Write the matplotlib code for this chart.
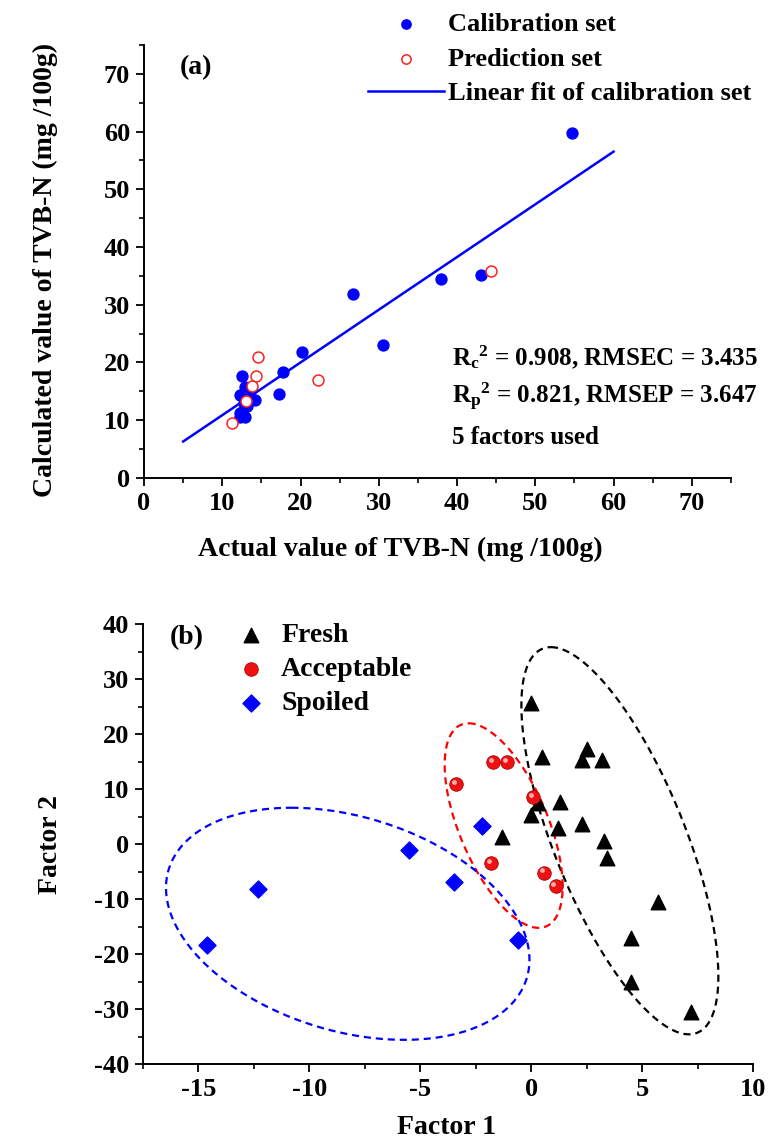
import numpy as np
import matplotlib
matplotlib.use("Agg")
import matplotlib.pyplot as plt
from matplotlib.ticker import MultipleLocator
from matplotlib.transforms import offset_copy

# (a) PLS model: actual vs calculated TVB-N
cal_actual = [54.7, 43.0, 38.0, 30.5, 26.7, 20.2, 17.8, 17.3, 12.5, 12.9, 12.3, 14.2,
              13.1, 12.5, 12.9, 12.3, 13.3, 12.8, 12.3, 13.6]
cal_pred = [59.7, 35.2, 34.5, 23.1, 31.9, 21.8, 18.4, 14.5, 17.6, 15.8, 14.4, 13.5,
            12.4, 11.5, 10.6, 10.6, 14.8, 13.0, 11.2, 15.0]
val_actual = [44.3, 22.2, 14.6, 14.3, 13.8, 13.0, 11.2]
val_pred = [35.9, 17.0, 21.0, 17.7, 15.9, 13.4, 9.5]
fit_slope = 0.913
fit_intercept = 1.75
fit_range = [5, 60]
stats_lines = [r"R$_\mathbf{c}$$^\mathbf{2}$ = 0.908, RMSEC = 3.435",
               r"R$_\mathbf{p}$$^\mathbf{2}$ = 0.821, RMSEP = 3.647",
               "5 factors used"]

# (b) score plot of the first two factors
fresh_f1 = [0.0, 0.5, 2.5, 2.3, 3.2, 1.3, 0.3, 0.0, 1.2, 2.3, -1.3, 3.3, 3.4, 5.7, 4.5, 4.5, 7.2]
fresh_f2 = [25.6, 15.9, 17.2, 15.3, 15.3, 7.7, 7.5, 5.3, 2.9, 3.6, 1.3, 0.5, -2.5, -10.5, -17.0, -25.0, -30.5]
accept_f1 = [-3.4, -1.7, -1.1, 0.1, -1.8, 0.6, 1.1]
accept_f2 = [10.9, 14.9, 14.9, 8.5, -3.5, -5.2, -7.7]
spoiled_f1 = [-14.6, -12.3, -5.5, -3.5, -2.2, -0.6]
spoiled_f2 = [-18.3, -8.1, -1.1, -6.9, 3.3, -17.5]
# class ellipses: centre, vector to topmost point, horizontal conjugate half-width
ell_centers = [(4.0, 0.6), (-1.24, 3.36), (-8.27, -14.5)]
ell_top = [(-3.11, 35.2), (-1.58, 18.6), (-2.54, 21.1)]
ell_half_w = [3.17, 2.14, 7.79]
ell_colors = ["black", "red", "blue"]

plt.rcParams["font.family"] = ["Liberation Serif", "DejaVu Serif"]
plt.rcParams["font.weight"] = "bold"
plt.rcParams["axes.unicode_minus"] = False
plt.rcParams["mathtext.fontset"] = "custom"
plt.rcParams["mathtext.rm"] = "Liberation Serif:bold"
plt.rcParams["mathtext.bf"] = "Liberation Serif:bold"
plt.rcParams["mathtext.it"] = "Liberation Serif:bold"

fig = plt.figure(figsize=(7.76, 11.44), dpi=100)


def style_axes(ax, size):
	for s in ["top", "right"]:
		ax.spines[s].set_visible(False)
	for s in ["left", "bottom"]:
		ax.spines[s].set_linewidth(1.4)
	ax.tick_params(which="major", direction="out", length=6, width=1.3, labelsize=size, pad=4)
	ax.tick_params(which="minor", direction="out", length=3.5, width=1.2)
	for lab in ax.get_xticklabels() + ax.get_yticklabels():
		lab.set_fontweight("bold")


# ---- panel (a)
ax1 = fig.add_axes([0.1856, 0.5822, 0.7564, 0.3785])
ax1.scatter(cal_actual, cal_pred, s=62, color="#0000ff", label="Calibration set", zorder=3)
ax1.scatter(val_actual, val_pred, s=62, facecolor="white", edgecolor="#ff2020", linewidth=1.1,
            label="Prediction set", zorder=4)
fx = np.array(fit_range)
ax1.plot(fx, fit_slope * fx + fit_intercept, color="#0000ff", lw=1.8,
         label="Linear fit of calibration set", zorder=2)
ax1.set_xlim(0, 75)
ax1.set_ylim(0, 75)
ax1.xaxis.set_major_locator(MultipleLocator(10))
ax1.xaxis.set_minor_locator(MultipleLocator(5))
ax1.yaxis.set_major_locator(MultipleLocator(10))
ax1.yaxis.set_minor_locator(MultipleLocator(5))
style_axes(ax1, 19)
ax1.set_xlabel("Actual value of TVB-N (mg /100g)", fontsize=20, fontweight="bold", va="center")
ax1.set_ylabel("Calculated value of TVB-N (mg /100g)", fontsize=20, fontweight="bold", va="center")
ax1.xaxis.set_label_coords(0.436, -0.166)
ax1.yaxis.set_label_coords(-0.168, 0.48)
ax1.text(4.6, 71.0, "(a)", fontsize=20, fontweight="bold", va="center")
for i, line in enumerate(stats_lines):
	ax1.text(39.3, 21.0 - 7.0 * i, line, fontsize=18, fontweight="bold", va="center")
ax1.legend(loc="upper left", bbox_to_anchor=(0.474, 0.989), bbox_transform=fig.transFigure,
           frameon=False, fontsize=19, handlelength=2.9, handletextpad=0.15, labelspacing=0.42,
           borderpad=0, borderaxespad=0, markerscale=0.85)

# ---- panel (b)
ax2 = fig.add_axes([0.1843, 0.0699, 0.786, 0.3846])
ax2.set_xlim(-17.5, 10)
ax2.set_ylim(-40, 40)
ax2.scatter(fresh_f1, fresh_f2, marker="^", s=110, color="black", label="Fresh", zorder=3)
ax2.scatter(accept_f1, accept_f2, marker="o", s=95, color="#ee1111", edgecolor="#b00000",
            linewidth=0.6, label="Acceptable", zorder=4)
shine = offset_copy(ax2.transData, fig=fig, x=-1.6, y=1.6, units="points")
ax2.scatter(accept_f1, accept_f2, marker="o", s=12, color="#ffb0b0", linewidth=0,
            transform=shine, zorder=5)
ax2.scatter(spoiled_f1, spoiled_f2, marker="D", s=75, color="#0000ff", label="Spoiled", zorder=3)

t = np.linspace(0, 2 * np.pi, 400)
for c, u, hw, col in zip(ell_centers, ell_top, ell_half_w, ell_colors):
	ex = c[0] + u[0] * np.cos(t) + hw * np.sin(t)
	ey = c[1] + u[1] * np.cos(t)
	ax2.plot(ex, ey, ls=(0, (3.2, 2.2)), color=col, lw=1.6, zorder=2)

ax2.xaxis.set_major_locator(MultipleLocator(5))
ax2.xaxis.set_minor_locator(MultipleLocator(2.5))
ax2.yaxis.set_major_locator(MultipleLocator(10))
ax2.yaxis.set_minor_locator(MultipleLocator(5))
style_axes(ax2, 19)
ax2.set_xlabel("Factor 1", fontsize=20, fontweight="bold", va="center")
ax2.set_ylabel("Factor 2", fontsize=20, fontweight="bold", va="center")
ax2.xaxis.set_label_coords(0.498, -0.145)
ax2.yaxis.set_label_coords(-0.152, 0.498)
ax2.text(-16.3, 37.5, "(b)", fontsize=20, fontweight="bold", va="center")
ax2.legend(loc="upper left", bbox_to_anchor=(0.305, 0.4555), bbox_transform=fig.transFigure,
           frameon=False, fontsize=20, handlelength=1.0, handletextpad=0.6, labelspacing=0.3,
           borderpad=0, borderaxespad=0, scatterpoints=1)

fig.savefig("out.png", dpi=100)
